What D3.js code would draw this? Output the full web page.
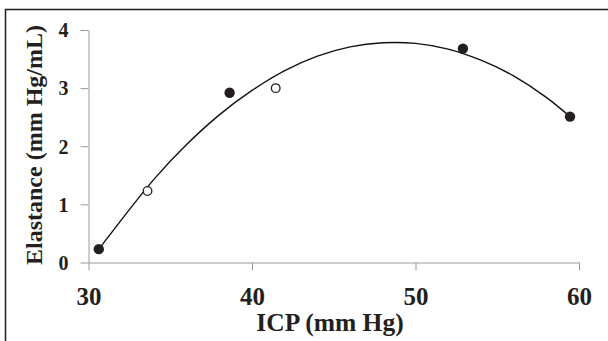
<!DOCTYPE html>
<html><head><meta charset="utf-8">
<script src="https://cdn.jsdelivr.net/npm/d3@7"></script>
<style>
html,body{margin:0;padding:0;background:#fff;}
svg{display:block;}
</style></head>
<body>
<svg id="chart" width="608" height="341"></svg>
<script>
// Data
const filledX = [30.63, 38.63, 52.9, 59.45];
const filledY = [0.23, 2.92, 3.68, 2.51];
const openX = [33.61, 41.45];
const openY = [1.23, 3.0];
// trend curve
const curveX = [30.63, 32, 34, 36, 38, 40, 42, 44, 46, 48, 50, 52, 54, 56, 58, 59.45];
const curveY = [0.23, 0.73, 1.43, 2.03, 2.54, 2.96, 3.30, 3.55, 3.71, 3.78, 3.77, 3.67, 3.48, 3.21, 2.84, 2.51];
const xTicks = [30, 40, 50, 60];
const yTicks = [0, 1, 2, 3, 4];

const svg = d3.select("#chart");
const ink = "#231f20";
const axisCol = "#9a9a9a";
const serif = "'Liberation Serif', 'Times New Roman', Times, serif";

// outer frame (open to the right and bottom)
svg.append("rect").attr("x", 5.5).attr("y", 9.5).attr("width", 640).attr("height", 360)
  .attr("fill", "none").attr("stroke", ink).attr("stroke-width", 1.5);

const x = d3.scaleLinear().domain([30, 60]).range([88.5, 579]);
const y = d3.scaleLinear().domain([0, 4]).range([262.5, 30]);

const xAxis = svg.append("g").attr("transform", `translate(0,${y(0)})`)
  .call(d3.axisBottom(x).tickValues(xTicks).tickSize(8).tickSizeOuter(0).tickFormat(d3.format("d")));
xAxis.selectAll("path,line").attr("stroke", axisCol).attr("stroke-width", 1);
xAxis.selectAll("text").attr("fill", ink)
  .style("font-family", serif)
  .style("font-weight", "bold").style("font-size", "25px")
  .attr("y", 0).attr("dy", null).attr("transform", "translate(0,42)");

const yAxis = svg.append("g").attr("transform", `translate(${x(30)},0)`)
  .call(d3.axisLeft(y).tickValues(yTicks).tickSize(8).tickSizeOuter(0).tickFormat(d3.format("d")));
yAxis.selectAll("path,line").attr("stroke", axisCol).attr("stroke-width", 1);
yAxis.selectAll("text").attr("fill", ink)
  .style("font-family", serif)
  .style("font-weight", "bold").style("font-size", "20px")
  .attr("x", -20).attr("dy", "0.34em");
svg.selectAll(".domain").attr("stroke", axisCol);

// trend line
const pts = curveX.map((d, i) => [d, curveY[i]]);
svg.append("path").datum(pts)
  .attr("fill", "none").attr("stroke", "#111").attr("stroke-width", 1.4)
  .attr("d", d3.line().x(d => x(d[0])).y(d => y(d[1])).curve(d3.curveNatural));

// points
svg.selectAll("circle.filled").data(filledX.map((d, i) => [d, filledY[i]])).enter()
  .append("circle").attr("class", "filled")
  .attr("cx", d => x(d[0])).attr("cy", d => y(d[1])).attr("r", 5.2)
  .attr("fill", ink);
svg.selectAll("circle.open").data(openX.map((d, i) => [d, openY[i]])).enter()
  .append("circle").attr("class", "open")
  .attr("cx", d => x(d[0])).attr("cy", d => y(d[1])).attr("r", 4.3)
  .attr("fill", "#fff").attr("stroke", ink).attr("stroke-width", 1.3);

// axis titles
svg.append("text").attr("x", 330).attr("y", 331).attr("text-anchor", "middle")
  .attr("fill", ink)
  .style("font-family", serif)
  .style("font-weight", "bold").style("font-size", "25.5px")
  .text("ICP (mm Hg)");
svg.append("text").attr("transform", "translate(42,145) rotate(-90)").attr("text-anchor", "middle")
  .attr("fill", ink)
  .style("font-family", serif)
  .style("font-weight", "bold").style("font-size", "24px")
  .text("Elastance (mm Hg/mL)");
</script>
</body></html>
